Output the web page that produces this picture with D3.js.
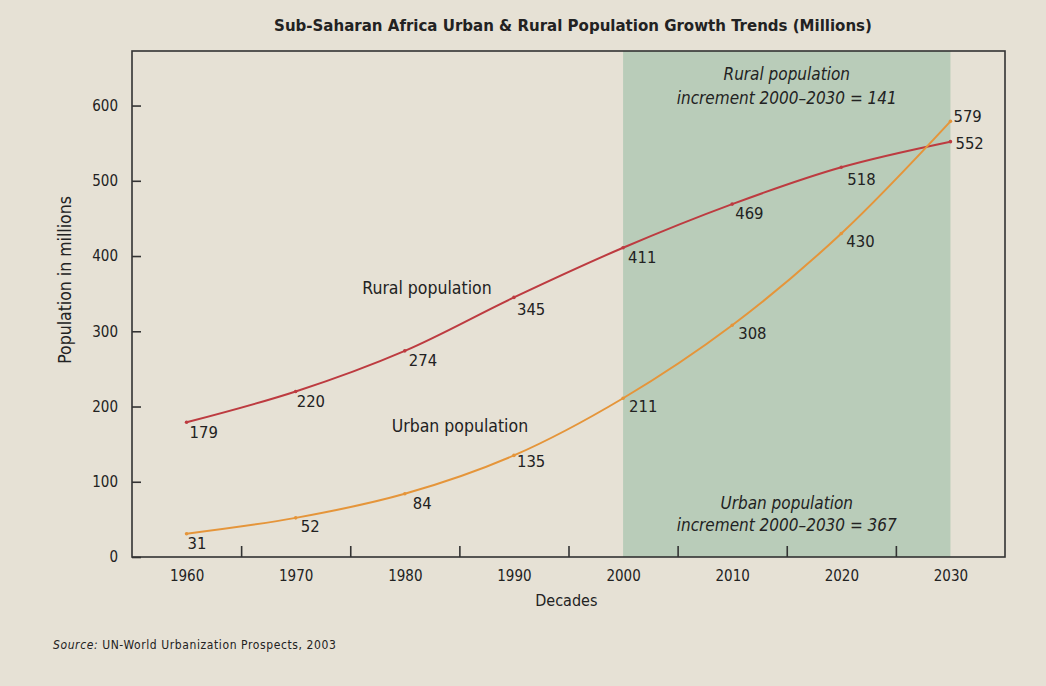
<!DOCTYPE html>
<html>
<head>
<meta charset="utf-8">
<script src="https://cdn.jsdelivr.net/npm/d3@7"></script>
<style>
  html, body { margin: 0; padding: 0; background: #E6E1D5; }
  svg { display: block; }
  text { font-family: "Liberation Sans Narrow", "DejaVu Sans Condensed", "Roboto Condensed", sans-serif; fill: #222; }
</style>
</head>
<body>
<svg id="chart" width="1046" height="686"></svg>
<script>
// ---- data ----
const years = [1960, 1970, 1980, 1990, 2000, 2010, 2020, 2030];
const rural = [179, 220, 274, 345, 411, 469, 518, 552];
const urban = [31, 52, 84, 135, 211, 308, 430, 579];
const yTicks = [0, 100, 200, 300, 400, 500, 600];
const xLabelTicks = [1960, 1970, 1980, 1990, 2000, 2010, 2020, 2030];
const xMinorTicks = [1965, 1975, 1985, 1995, 2005, 2015, 2025];
const shadeRange = [2000, 2030];
const title = "Sub-Saharan Africa Urban & Rural Population Growth Trends (Millions)";

const svg = d3.select("#chart");
const W = 1046, H = 686;
const box = { left: 132, right: 1005, top: 51, bottom: 557 };

svg.append("rect").attr("width", W).attr("height", H).attr("fill", "#E6E1D5");

const x = d3.scaleLinear().domain([1955, 2035]).range([box.left, box.right]);
const y = d3.scaleLinear().domain([0, 672.5]).range([box.bottom, box.top]);

// shaded projection band
svg.append("rect")
  .attr("x", x(shadeRange[0])).attr("y", box.top)
  .attr("width", x(shadeRange[1]) - x(shadeRange[0]))
  .attr("height", box.bottom - box.top)
  .attr("fill", "#B9CCB9");

// frame
svg.append("rect")
  .attr("x", box.left).attr("y", box.top)
  .attr("width", box.right - box.left).attr("height", box.bottom - box.top)
  .attr("fill", "none").attr("stroke", "#333").attr("stroke-width", 1.6);

const fontFam = '"Liberation Sans Narrow", "DejaVu Sans Condensed", sans-serif';

// y axis
const yAxis = svg.append("g").attr("transform", `translate(${box.left},0)`)
  .call(d3.axisLeft(y).tickValues(yTicks).tickSizeInner(-9).tickSizeOuter(0).tickPadding(14));
yAxis.select(".domain").remove();
yAxis.selectAll("line").attr("stroke", "#333").attr("stroke-width", 1.6);
yAxis.selectAll("text").attr("font-size", 15).attr("fill", "#222").style("font-family", fontFam);

// x axis: labels at decades
const xAxisLab = svg.append("g").attr("transform", `translate(0,${box.bottom})`)
  .call(d3.axisBottom(x).tickValues(xLabelTicks).tickSize(0).tickPadding(13).tickFormat(d3.format("d")));
xAxisLab.select(".domain").remove();
xAxisLab.selectAll("text").attr("font-size", 15).attr("fill", "#222").style("font-family", fontFam);

// x axis: inner ticks at mid-decades
const xAxisTicks = svg.append("g").attr("transform", `translate(0,${box.bottom})`)
  .call(d3.axisBottom(x).tickValues(xMinorTicks).tickSizeInner(-11).tickSizeOuter(0).tickFormat(""));
xAxisTicks.select(".domain").remove();
xAxisTicks.selectAll("line").attr("stroke", "#333").attr("stroke-width", 1.6);

// lines
const line = d3.line().x(d => x(d[0])).y(d => y(d[1])).curve(d3.curveCatmullRom.alpha(0.5));
const ruralPts = years.map((yr, i) => [yr, rural[i]]);
const urbanPts = years.map((yr, i) => [yr, urban[i]]);

svg.append("path").datum(ruralPts).attr("d", line)
  .attr("fill", "none").attr("stroke", "#BD3B40").attr("stroke-width", 2);
svg.append("path").datum(urbanPts).attr("d", line)
  .attr("fill", "none").attr("stroke", "#E5953A").attr("stroke-width", 2);

// small markers
svg.append("g").selectAll("circle").data(ruralPts).join("circle")
  .attr("cx", d => x(d[0])).attr("cy", d => y(d[1])).attr("r", 1.8).attr("fill", "#BD3B40");
svg.append("g").selectAll("circle").data(urbanPts).join("circle")
  .attr("cx", d => x(d[0])).attr("cy", d => y(d[1])).attr("r", 1.8).attr("fill", "#E5953A");

// value labels
function valueLabels(pts, offsets) {
  svg.append("g").selectAll("text").data(pts).join("text")
    .attr("x", (d, i) => x(d[0]) + offsets[i][0])
    .attr("y", (d, i) => y(d[1]) + offsets[i][1])
    .attr("font-size", 16.5)
    .text(d => d[1]);
}
valueLabels(ruralPts, [[3,16],[1,16],[4,15],[3,18],[5,15],[3,15],[6,18],[5,7]]);
valueLabels(urbanPts, [[1,15],[5,14],[8,15],[3,12],[6,14],[6,14],[5,14],[3,1]]);

// series labels
svg.append("text").attr("x", x(1976.1)).attr("y", y(349)).attr("font-size", 17.5).text("Rural population");
svg.append("text").attr("x", x(1978.8)).attr("y", y(166)).attr("font-size", 17.5).text("Urban population");

// increment annotations
const midShade = (x(shadeRange[0]) + x(shadeRange[1])) / 2;
const ann = svg.append("g").attr("font-style", "italic").attr("font-size", 17).attr("text-anchor", "middle");
ann.append("text").attr("x", midShade).attr("y", 80).text("Rural population");
ann.append("text").attr("x", midShade).attr("y", 104).text("increment 2000\u20132030 = 141");
ann.append("text").attr("x", midShade).attr("y", 509).text("Urban population");
ann.append("text").attr("x", midShade).attr("y", 531).text("increment 2000\u20132030 = 367");

// axis titles
svg.append("text").attr("text-anchor", "middle").attr("font-size", 17.5)
  .attr("transform", `translate(71,280) rotate(-90)`)
  .text("Population in millions");
svg.append("text").attr("text-anchor", "middle").attr("font-size", 16)
  .attr("x", x(1994.8)).attr("y", 606).text("Decades");

// title
svg.append("text").attr("text-anchor", "middle").attr("font-size", 16.7).attr("font-weight", "bold")
  .attr("x", 573).attr("y", 31).text(title);

// source
const src = svg.append("text").attr("x", 53).attr("y", 649).attr("font-size", 12).attr("letter-spacing", 0.6);
src.append("tspan").attr("font-style", "italic").text("Source: ");
src.append("tspan").text("UN-World Urbanization Prospects, 2003");
</script>
</body>
</html>
